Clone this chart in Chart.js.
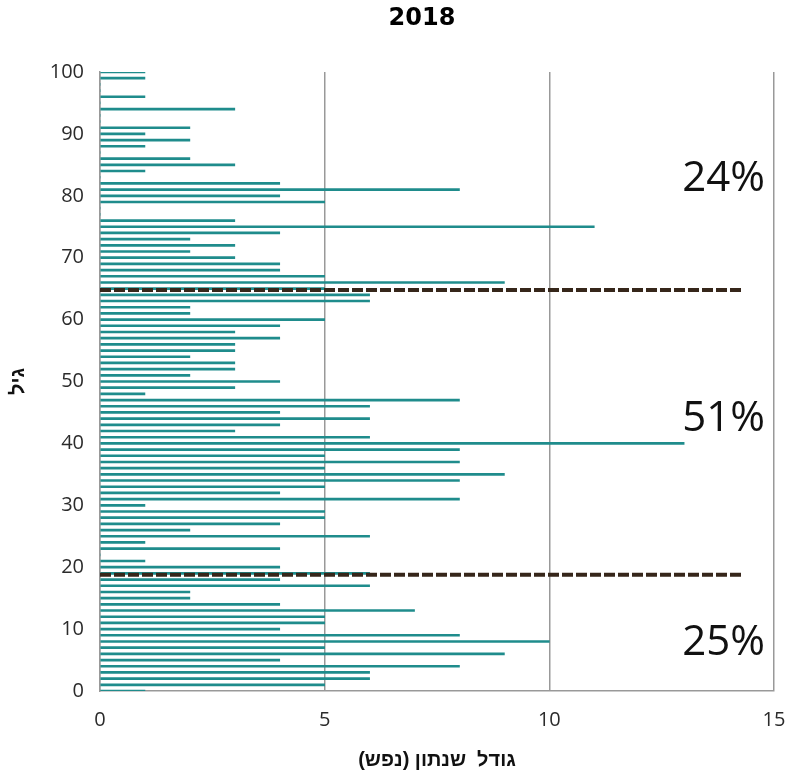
<!DOCTYPE html>
<html>
<head>
<meta charset="utf-8">
<script src="https://cdn.jsdelivr.net/npm/chart.js@4.4.1/dist/chart.umd.min.js"></script>
<style>
  html, body { margin: 0; padding: 0; background: #ffffff; }
  #wrap { width: 794px; height: 776px; }
</style>
</head>
<body>
<div id="wrap"><canvas id="c" width="794" height="776"></canvas></div>
<script>
// ---- data ----
const chartTitle = '2018';
const xAxisTitle = 'גודל  שנתון (נפש)';
const yAxisTitle = 'גיל';
const ages = Array.from({ length: 101 }, (_, i) => i);
const cohortSize = [
  1, 5, 6, 6, 8, 4, 9, 5, 10, 8,      // 0-9
  4, 5, 5, 7, 4, 2, 2, 6, 4, 6,       // 10-19
  4, 1, 0, 4, 1, 6, 2, 4, 5, 5,       // 20-29
  1, 8, 4, 5, 8, 9, 5, 8, 5, 8,       // 30-39
  13, 6, 3, 4, 6, 4, 6, 8, 1, 3,      // 40-49
  4, 2, 3, 3, 2, 3, 3, 4, 3, 4,       // 50-59
  5, 2, 2, 6, 6, 5, 9, 5, 4, 4,       // 60-69
  3, 2, 3, 2, 4, 11, 3, 0, 0, 5,      // 70-79
  4, 8, 4, 0, 1, 3, 2, 0, 1, 2,       // 80-89
  1, 2, 0, 0, 3, 0, 1, 0, 0, 1,       // 90-99
  1                                   // 100
];
const boundaryAges = [18.8, 64.8];
const boundaryEnd = [0, 14.3];
const shareLabels = ['25%', '51%', '24%'];
const shareAges = [7.8, 43.9, 82.7];
const shareX = 14.8;

// ---- build ----
const barPoints = ages.map((a, i) => ({ x: cohortSize[i], y: a }));
const datasets = [{
  type: 'bar',
  label: 'cohort',
  data: barPoints,
  backgroundColor: '#1F8C8C',
  borderWidth: 0,
  barThickness: 2,
  order: 2
}];
boundaryAges.forEach((b, k) => {
  datasets.push({
    type: 'line',
    label: 'boundary' + k,
    data: boundaryEnd.map(x => ({ x: x, y: b })),
    borderColor: '#36261A',
    borderWidth: 4,
    borderDash: [11, 3],
    pointRadius: 0,
    fill: false,
    order: 1
  });
});

const textPlugin = {
  id: 'texts',
  afterDatasetsDraw(chart) {
    const { ctx, scales } = chart;
    ctx.save();
    ctx.font = '42px "Open Sans", "Noto Sans", sans-serif';
    ctx.fillStyle = '#111111';
    ctx.textAlign = 'right';
    ctx.textBaseline = 'middle';
    shareLabels.forEach((t, i) => {
      ctx.fillText(t, scales.x.getPixelForValue(shareX), scales.y.getPixelForValue(shareAges[i]));
    });
    ctx.restore();
  },
  afterDraw(chart) {
    const { ctx, chartArea } = chart;
    ctx.save();
    ctx.font = 'bold 24px "DejaVu Sans", sans-serif';
    ctx.fillStyle = '#000000';
    ctx.textAlign = 'center';
    ctx.textBaseline = 'middle';
    ctx.fillText(chartTitle, 422, 19);
    ctx.direction = 'rtl';
    ctx.font = 'bold 20px "Liberation Sans", "DejaVu Sans", sans-serif';
    ctx.fillStyle = '#111111';
    ctx.textAlign = 'center';
    ctx.fillText(xAxisTitle, (chartArea.left + chartArea.right) / 2, 760);
    ctx.translate(18, (chartArea.top + chartArea.bottom) / 2);
    ctx.rotate(-Math.PI / 2);
    ctx.fillText(yAxisTitle, 0, 0);
    ctx.restore();
  }
};

new Chart(document.getElementById('c'), {
  data: { datasets },
  options: {
    indexAxis: 'y',
    responsive: false,
    animation: false,
    layout: { padding: { left: 0, right: 20, top: 72, bottom: 0 } },
    plugins: {
      legend: { display: false },
      tooltip: { enabled: false },
      title: { display: false }
    },
    scales: {
      x: {
        type: 'linear',
        min: 0, max: 15,
        offset: false,
        ticks: {
          stepSize: 5,
          color: '#2b2b2b',
          font: { family: '"Open Sans", "Noto Sans", sans-serif', size: 20 },
          padding: 17
        },
        grid: { color: '#999999', lineWidth: 1.5, drawTicks: false },
        border: { display: true, color: '#999999', width: 1.5 },
        afterFit(s) { s.height = 85; s.paddingRight = 0; s.paddingLeft = 0; }
      },
      y: {
        type: 'linear',
        min: 0, max: 100,
        offset: false,
        ticks: {
          stepSize: 10,
          color: '#2b2b2b',
          font: { family: '"Open Sans", "Noto Sans", sans-serif', size: 20 },
          padding: 16
        },
        grid: { display: false, drawTicks: false },
        border: { display: true, color: '#999999', width: 1.5 },
        afterFit(s) { s.width = 100; s.paddingTop = 0; s.paddingBottom = 0; }
      }
    }
  },
  plugins: [textPlugin]
});
</script>
</body>
</html>
